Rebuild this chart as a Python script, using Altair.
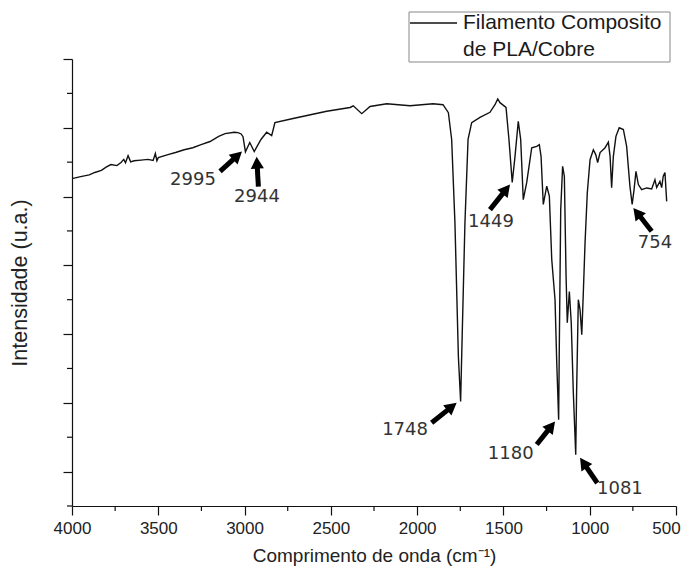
import math
import altair as alt
import pandas as pd

# ---------------- data ----------------
wavenumber = [4000, 3950, 3900, 3868, 3830, 3800, 3774, 3740, 3716, 3700, 3690, 3675, 3660,
              3640, 3600, 3560, 3530, 3517, 3508, 3500, 3444, 3400, 3350, 3300, 3252, 3200,
              3150, 3113, 3060, 3038, 3020, 3009, 2995, 2970, 2944, 2905, 2872, 2843, 2824,
              2719, 2524, 2389, 2370, 2321, 2273, 2176, 2041, 1908, 1850, 1819, 1800, 1781,
              1761, 1748, 1742, 1723, 1705, 1684, 1636, 1578, 1549, 1533, 1520, 1485, 1468,
              1449, 1433, 1414, 1400, 1385, 1365, 1336, 1307, 1292, 1282, 1269, 1249, 1234,
              1220, 1201, 1191, 1180, 1176, 1168, 1157, 1147, 1137, 1130, 1118, 1107, 1095,
              1081, 1076, 1066, 1056, 1046, 1037, 1027, 1014, 998, 979, 965, 954, 940, 911,
              892, 882, 873, 863, 848, 829, 805, 786, 767, 754, 743, 732, 718, 699, 670, 641,
              622, 612, 593, 583, 574, 564, 554]
intensity = [85.2, 85.8, 86.3, 87.0, 87.6, 88.6, 89.3, 89.0, 89.9, 90.8, 89.8, 91.9, 90.1,
             90.4, 90.6, 90.8, 90.5, 92.5, 90.4, 91.3, 92.2, 92.8, 93.6, 94.2, 95.1, 96.0,
             97.5, 98.3, 98.7, 98.6, 98.2, 97.4, 93.0, 95.7, 93.1, 96.6, 98.7, 97.7, 101.5,
             102.7, 104.8, 105.9, 106.4, 104.1, 106.2, 107.0, 106.4, 107.0, 106.7, 104.4,
             96.6, 72.4, 33.4, 20.4, 33.4, 72.4, 96.6, 101.5, 103.0, 104.5, 106.7, 108.4,
             107.3, 105.9, 96.6, 84.1, 91.6, 101.9, 96.6, 79.1, 84.1, 94.2, 94.6, 95.1, 91.7,
             77.7, 83.0, 80.1, 61.7, 50.0, 31.7, 15.1, 37.5, 76.2, 88.8, 85.9, 56.8, 43.3,
             52.4, 43.3, 23.0, 4.9, 23.0, 50.0, 47.1, 39.8, 52.1, 66.6, 81.1, 90.7, 93.6,
             92.2, 89.9, 92.8, 94.2, 95.8, 91.7, 82.6, 91.7, 97.5, 100.0, 99.5, 94.6, 83.0,
             77.7, 82.0, 87.3, 83.5, 82.0, 82.5, 82.2, 84.9, 82.6, 84.4, 82.6, 85.9, 87.0,
             78.6]

peak_labels = ["2995", "2944", "1748", "1449", "1180", "1081", "754"]
label_wn = [3299, 2928, 2070, 1572, 1458, 825, 622]
label_v = [84.9, 80.0, 12.2, 72.7, 5.2, -5.2, 66.6]
arrow_head_wn = [3015, 2930, 1771, 1462, 1201, 1056, 747]
arrow_head_v = [93.1, 91.6, 20.0, 83.5, 14.6, 4.0, 76.7]
arrow_tail_wn = [3142, 2920, 1916, 1578, 1307, 956, 641]
arrow_tail_v = [87.3, 82.9, 14.2, 76.2, 7.9, -3.3, 69.9]

legend_lines = ["Filamento Composito", "de PLA/Cobre"]
x_title = "Comprimento de onda (cm⁻¹)"
y_title = "Intensidade (u.a.)"

x_domain = [500, 4000]
y_domain = [-10, 120]
x_major = list(range(500, 4001, 500))
x_minor = list(range(750, 4000, 500))
y_major = list(range(0, 121, 20))
y_minor = list(range(-10, 120, 20))

W, H = 604, 447

# ---------------- arrows: direction from data through the scale factors ----------------
kx = -W / (x_domain[1] - x_domain[0])   # px per wavenumber (reversed axis)
ky = -H / (y_domain[1] - y_domain[0])   # px per intensity unit (svg y down)
rows = []
for hw, hv, tw, tv in zip(arrow_head_wn, arrow_head_v, arrow_tail_wn, arrow_tail_v):
    dx = (hw - tw) * kx
    dy = (hv - tv) * ky
    L = math.hypot(dx, dy)
    ux, uy = dx / L, dy / L
    ang = math.degrees(math.atan2(ux, -uy)) % 360
    back = 8.5
    rows.append({"hw": hw, "hv": hv, "tw": tw, "tv": tv,
                 "ew": hw - ux * back / kx, "ev": hv - uy * back / ky, "ang": ang})
arrows = pd.DataFrame(rows)

spec = pd.DataFrame({"wn": wavenumber, "v": intensity})
labels = pd.DataFrame({"t": peak_labels, "wn": label_wn, "v": label_v})
xminor_df = pd.DataFrame({"wn": x_minor})
yminor_df = pd.DataFrame({"v": y_minor})

xs = alt.Scale(domain=x_domain, reverse=True, nice=False, zero=False)
ys = alt.Scale(domain=y_domain, nice=False, zero=False)

axis_font = "Liberation Sans"

x_axis = alt.Axis(
    values=x_major, format="d", title=x_title, tickSize=9,
    labelFontSize=17, labelFont=axis_font, labelColor="#222", labelPadding=5,
    labelOffset={"condition": {"test": "datum.value === 500", "value": -10}, "value": 0},
    titleFontSize=19, titleFont=axis_font, titleColor="#222", titleFontWeight="normal",
    titlePadding=10, domainColor="#111", tickColor="#111", domainWidth=1.2, tickWidth=1.2,
    grid=False, labelFlush=False, labelOverlap=False,
)
y_axis = alt.Axis(
    values=y_major, labels=False, title=y_title, tickSize=9,
    titleFontSize=21.5, titleFont=axis_font, titleColor="#222", titleFontWeight="normal",
    titlePadding=31, domainColor="#111", tickColor="#111", domainWidth=1.2, tickWidth=1.2,
    grid=False,
)

line = alt.Chart(spec).mark_line(color="#111", strokeWidth=1.4, clip=False).encode(
    x=alt.X("wn:Q", scale=xs, axis=x_axis),
    y=alt.Y("v:Q", scale=ys, axis=y_axis),
)

xminor = alt.Chart(xminor_df).mark_rule(color="#111", strokeWidth=1.2).encode(
    x=alt.X("wn:Q", scale=xs, axis=x_axis),
    y=alt.value(H), y2=alt.value(H + 5),
)
yminor = alt.Chart(yminor_df).mark_rule(color="#111", strokeWidth=1.2).encode(
    y=alt.Y("v:Q", scale=ys, axis=y_axis),
    x=alt.value(0), x2=alt.value(-5),
)

shafts = alt.Chart(arrows).mark_rule(color="#000", strokeWidth=5, strokeCap="butt").encode(
    x=alt.X("tw:Q", scale=xs, axis=x_axis), x2="ew:Q",
    y=alt.Y("tv:Q", scale=ys, axis=y_axis), y2="ev:Q",
)
heads = alt.Chart(arrows).mark_point(
    shape="M0,0L0.55,1L-0.55,1Z", filled=True, color="#000", opacity=1, size=576, strokeWidth=0
).encode(
    x=alt.X("hw:Q", scale=xs, axis=x_axis),
    y=alt.Y("hv:Q", scale=ys, axis=y_axis),
    angle=alt.Angle("ang:Q", scale=None),
)
texts = alt.Chart(labels).mark_text(
    font="DejaVu Sans", fontSize=18, color="#333", align="center", baseline="middle"
).encode(
    x=alt.X("wn:Q", scale=xs, axis=x_axis),
    y=alt.Y("v:Q", scale=ys, axis=y_axis),
    text="t:N",
)

one = alt.Data(values=[{}])
leg_box = alt.Chart(one).mark_rect(fill="white", stroke="#888", strokeWidth=1).encode(
    x=alt.value(337), x2=alt.value(598), y=alt.value(-47), y2=alt.value(3)
)
leg_line = alt.Chart(one).mark_rule(color="#111", strokeWidth=1.6).encode(
    x=alt.value(338), x2=alt.value(385), y=alt.value(-36)
)
leg_t1 = alt.Chart(one).mark_text(
    font=axis_font, fontSize=21, color="#1a1a1a", align="left", baseline="middle"
).encode(x=alt.value(391), y=alt.value(-36), text=alt.value(legend_lines[0]))
leg_t2 = alt.Chart(one).mark_text(
    font=axis_font, fontSize=21, color="#1a1a1a", align="left", baseline="middle"
).encode(x=alt.value(391), y=alt.value(-9), text=alt.value(legend_lines[1]))

chart = alt.layer(line, xminor, yminor, shafts, heads, texts,
                  leg_box, leg_line, leg_t1, leg_t2).properties(
    width=W, height=H,
    autosize=alt.AutoSizeParams(type="none"),
    padding={"left": 64, "top": 51, "right": 5, "bottom": 62},
    background="white",
).configure_view(stroke=None)

chart.save("out.html", embed_options={"renderer": "svg", "actions": False})
